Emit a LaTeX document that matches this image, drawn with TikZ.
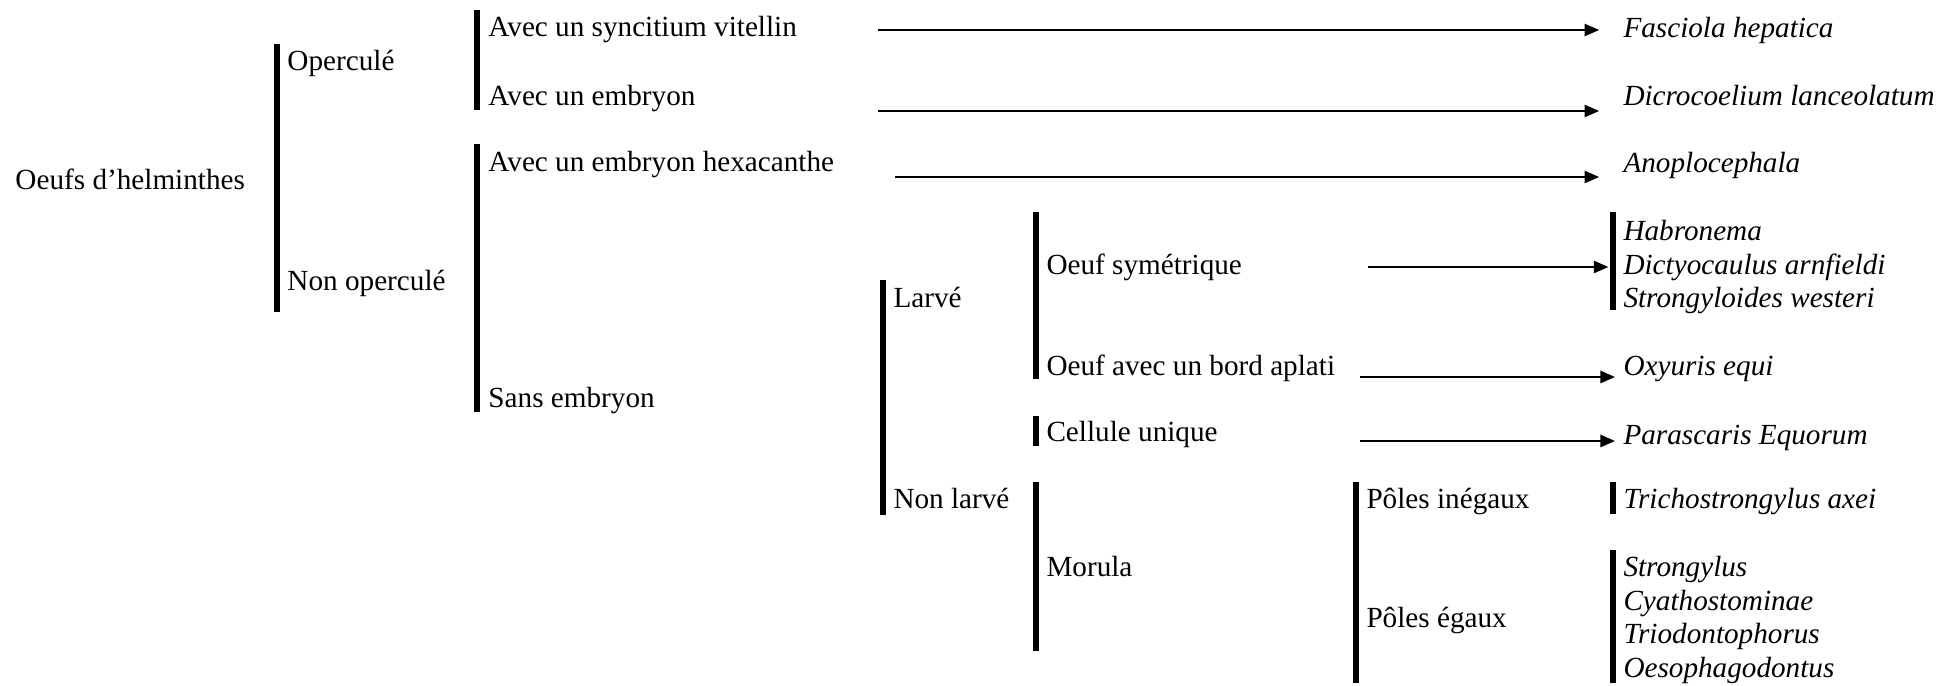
\documentclass[tikz,border=0pt]{standalone}
\usepackage{fontspec}
\setmainfont{Liberation Serif}
\usetikzlibrary{arrows.meta}
\tikzstyle{lbl}=[anchor=west,inner sep=0pt,font=\fontsize{12}{14}\selectfont,text height=8.5pt,text depth=2.5pt,yshift=-1.2pt]
\tikzstyle{esp}=[lbl,font=\fontsize{12}{14}\selectfont\itshape]
\tikzstyle{barre}=[line width=2.2pt]
\tikzstyle{fl}=[->,line width=0.8pt]

\begin{document}
\begin{tikzpicture}[x=0.411pt,y=-0.411pt,>={Triangle[length=6pt,width=5pt]}]
    \useasboundingbox (0,0) rectangle (1959,685);
    \node [lbl] (oeufs) at (15,179) {Oeufs d'helminthes};

    % opercule / non opercule
    \draw[barre] (277,44) -- (277,312);
    \node [lbl] (operc) at (287,60) {Operculé};
    \node [lbl] (nonop) at (287,280) {Non operculé};

    \draw[barre] (477,10) -- (477,110);
    \node [lbl] (syncit) at (488,26) {Avec un syncitium vitellin};
    \node [lbl] (embr) at (488,95) {Avec un embryon};
    \draw[barre] (477,144) -- (477,412);
    \node [lbl] (hexa) at (488,161) {Avec un embryon hexacanthe};
    \node [lbl] (sansembr) at (488,397) {Sans embryon};

    % larve / non larve
    \draw[barre] (883,280) -- (883,515);
    \node [lbl] (larve) at (893,297) {Larvé};
    \node [lbl] (nonlarve) at (893,498) {Non larvé};

    \draw[barre] (1036,212) -- (1036,379);
    \node [lbl] (sym) at (1046,264) {Oeuf symétrique};
    \node [lbl] (bord) at (1046,365) {Oeuf avec un bord aplati};
    \draw[barre] (1036,416) -- (1036,446);
    \node [lbl] (cell) at (1046,431) {Cellule unique};
    \draw[barre] (1036,482) -- (1036,651);
    \node [lbl] (morula) at (1046,566) {Morula};

    \draw[barre] (1356,482) -- (1356,683);
    \node [lbl] (inegaux) at (1366,498) {Pôles inégaux};
    \node [lbl] (egaux) at (1366,617) {Pôles égaux};

    % especes
    \node [esp] (fasc) at (1623,27) {Fasciola hepatica};
    \node [esp] (dicro) at (1623,95) {Dicrocoelium lanceolatum};
    \node [esp] (anop) at (1623,162) {Anoplocephala};
    \draw[barre] (1613,212) -- (1613,310);
    \node [esp] (habr) at (1623,230) {Habronema};
    \node [esp] (dicty) at (1623,264) {Dictyocaulus arnfieldi};
    \node [esp] (strgl) at (1623,297) {Strongyloides westeri};
    \node [esp] (oxy) at (1623,365) {Oxyuris equi};
    \node [esp] (parasc) at (1623,434) {Parascaris Equorum};
    \draw[barre] (1613,482) -- (1613,514);
    \node [esp] (tricho) at (1623,498) {Trichostrongylus axei};
    \draw[barre] (1613,550) -- (1613,683);
    \node [esp] (strong) at (1623,566) {Strongylus};
    \node [esp] (cyath) at (1623,600) {Cyathostominae};
    \node [esp] (triod) at (1623,633) {Triodontophorus};
    \node [esp] (oeso) at (1623,667) {Oesophagodontus};

    % fleches
    \coordinate (d1) at (878,30);
    \coordinate (d2) at (878,111);
    \coordinate (d3) at (895,177);
    \coordinate (d4) at (1368,267);
    \coordinate (d5) at (1360,377);
    \coordinate (d6) at (1360,441);
    \draw[fl,shorten >=9.8pt] (d1) -- (d1 -| fasc.west);
    \draw[fl,shorten >=9.8pt] (d2) -- (d2 -| dicro.west);
    \draw[fl,shorten >=9.8pt] (d3) -- (d3 -| anop.west);
    \draw[fl,shorten >=6pt] (d4) -- (d4 -| dicty.west);
    \draw[fl,shorten >=3.3pt] (d5) -- (d5 -| oxy.west);
    \draw[fl,shorten >=3.3pt] (d6) -- (d6 -| parasc.west);
\end{tikzpicture}
\end{document}
